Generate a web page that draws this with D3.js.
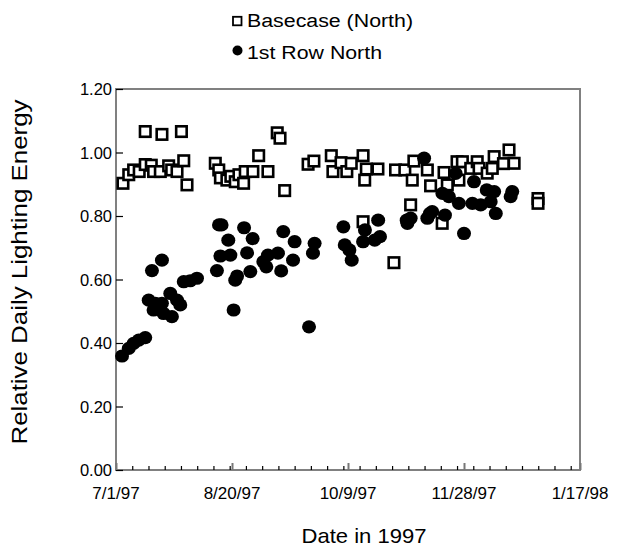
<!DOCTYPE html>
<html><head><meta charset="utf-8">
<script src="https://cdn.jsdelivr.net/npm/d3@7"></script>
<style>body{margin:0;background:#fff}svg{display:block}text{font-family:Arial,"Liberation Sans",sans-serif;fill:#000}</style>
</head><body>
<script>
// Days after 7/1/97 and relative daily lighting energy
const basecaseDays = [3,5.5,7.6,10,12.6,12.6,15.2,16.2,19.1,19.8,22.7,24,26.3,28.2,29.2,30.6,
  42.8,44.3,45,47.8,49.5,51.4,53,55,55.7,59,61.5,65.5,69.5,70.7,72.7,
  82.8,85.3,92.8,93.5,97,99.5,101.4,106.5,106.5,107.2,107.9,112.9,119.8,
  120.5,124.5,127,127.7,128.4,134.2,135.6,140.6,141.4,142.8,147,147.8,149.3,152.9,155.7,156.5,160,162.2,163,167,169.4,171.6,181.9,181.9];
const basecaseValues = [0.903,0.93,0.945,0.94,1.066,0.962,0.96,0.94,0.94,1.057,0.958,0.945,0.94,1.066,0.974,0.898,
  0.966,0.945,0.92,0.913,0.925,0.908,0.93,0.903,0.94,0.94,0.99,0.94,1.062,1.045,0.88,
  0.963,0.973,0.99,0.94,0.968,0.94,0.966,0.99,0.782,0.913,0.948,0.948,0.653,
  0.945,0.945,0.835,0.913,0.973,0.945,0.895,0.777,0.937,0.898,0.971,0.913,0.971,0.95,0.971,0.95,0.935,0.95,0.987,0.965,1.008,0.966,0.855,0.84];
const rowDays = [2.6,5.5,7.6,9.8,12.6,14.1,15.5,16.2,17,19.8,19.8,20.5,23.4,24.1,26.3,27.7,29.2,32,34.9,
  43.5,44.4,45.5,45,48.4,49.3,50.7,51.4,52.2,55.2,56.5,57.9,58.9,63.5,64.8,65.5,69.8,71.2,72.1,76.3,77,83.2,84.9,85.6,
  98,98.6,100.6,101.6,106.5,107.3,111.5,113,113.8,
  125.3,125.6,127,132.8,134.2,135.3,136.3,140.7,141.8,143.5,146.4,147.8,150,153.6,154.3,157.2,159.8,161.5,163,163.7,170.1,170.8];
const rowValues = [0.359,0.383,0.399,0.409,0.417,0.535,0.628,0.504,0.525,0.661,0.525,0.493,0.556,0.483,0.535,0.52,0.593,0.596,0.604,
  0.628,0.772,0.772,0.674,0.724,0.677,0.504,0.598,0.611,0.763,0.684,0.625,0.729,0.656,0.64,0.677,0.683,0.627,0.751,0.661,0.719,0.451,0.683,0.714,
  0.766,0.709,0.693,0.661,0.719,0.756,0.724,0.787,0.735,
  0.787,0.777,0.793,0.982,0.793,0.808,0.814,0.871,0.803,0.861,0.934,0.84,0.745,0.84,0.908,0.835,0.882,0.845,0.877,0.808,0.861,0.877];
const xTickDays = [0,50,100,150,200];
const xTickLabels = ["7/1/97","8/20/97","10/9/97","11/28/97","1/17/98"];
const yTicks = [0,0.2,0.4,0.6,0.8,1.0,1.2];
const seriesNames = ["Basecase (North)","1st Row North"];

const W=624,H=558, L=116,R=580,T=89,B=470;
const svg=d3.select("body").append("svg").attr("width",W).attr("height",H);
const x=d3.scaleLinear().domain([0,200]).range([L,R]);
const y=d3.scaleLinear().domain([0,1.2]).range([B,T]);

// frame
svg.append("rect").attr("x",L).attr("y",T).attr("width",R-L).attr("height",B-T)
  .attr("fill","none").attr("stroke","#808080").attr("stroke-width",2);

// y axis
const yAx=svg.append("g").attr("transform",`translate(${L},0)`)
  .call(d3.axisRight(y).tickValues(yTicks).tickSize(7).tickFormat(""));
yAx.select(".domain").remove();
yAx.selectAll("line").attr("stroke","#000").attr("stroke-width",1.2);
svg.selectAll(".ylab").data(yTicks).enter().append("text")
  .attr("x",112).attr("y",d=>y(d)+6).attr("text-anchor","end").attr("font-size",16.5)
  .text(d=>d.toFixed(2));

// x axis minor ticks
const minor=d3.range(7,200,7);
const xMin=svg.append("g").attr("transform",`translate(0,${B})`)
  .call(d3.axisTop(x).tickValues(minor).tickSize(4).tickFormat(""));
xMin.select(".domain").remove();
xMin.selectAll("line").attr("stroke","#000").attr("stroke-width",1.2);
const xAx=svg.append("g").attr("transform",`translate(0,${B})`)
  .call(d3.axisTop(x).tickValues(xTickDays).tickSize(7).tickFormat(""));
xAx.select(".domain").remove();
xAx.selectAll("line").attr("stroke","#777").attr("stroke-width",2);
svg.selectAll(".xlab").data(xTickDays).enter().append("text")
  .attr("x",d=>x(d)).attr("y",499).attr("text-anchor","middle").attr("font-size",17)
  .text((d,i)=>xTickLabels[i]);

// data
const sq=10.5;
svg.append("g").selectAll("rect").data(basecaseDays).enter().append("rect")
  .attr("x",(d,i)=>x(d)-sq/2).attr("y",(d,i)=>y(basecaseValues[i])-sq/2)
  .attr("width",sq).attr("height",sq).attr("fill","#fff").attr("stroke","#000").attr("stroke-width",2.6);
svg.append("g").selectAll("ellipse").data(rowDays).enter().append("ellipse")
  .attr("cx",d=>x(d)).attr("cy",(d,i)=>y(rowValues[i])).attr("rx",7).attr("ry",6.6).attr("fill","#000");

// legend
svg.append("rect").attr("x",233).attr("y",16.8).attr("width",8.5).attr("height",8.5)
  .attr("fill","#fff").attr("stroke","#000").attr("stroke-width",1.8);
svg.append("text").attr("x",247).attr("y",27).attr("font-size",18)
  .attr("textLength",166).attr("lengthAdjust","spacingAndGlyphs").text(seriesNames[0]);
svg.append("circle").attr("cx",237.5).attr("cy",50.5).attr("r",5).attr("fill","#000");
svg.append("text").attr("x",247).attr("y",58.5).attr("font-size",18)
  .attr("textLength",135).attr("lengthAdjust","spacingAndGlyphs").text(seriesNames[1]);

// titles
svg.append("text").attr("x",364).attr("y",543).attr("text-anchor","middle").attr("font-size",21)
  .attr("textLength",125).attr("lengthAdjust","spacingAndGlyphs").text("Date in 1997");
svg.append("text").attr("transform","translate(27,272) rotate(-90)").attr("text-anchor","middle").attr("font-size",22)
  .attr("textLength",345).attr("lengthAdjust","spacingAndGlyphs")
  .text("Relative Daily Lighting Energy");
</script>
</body></html>
